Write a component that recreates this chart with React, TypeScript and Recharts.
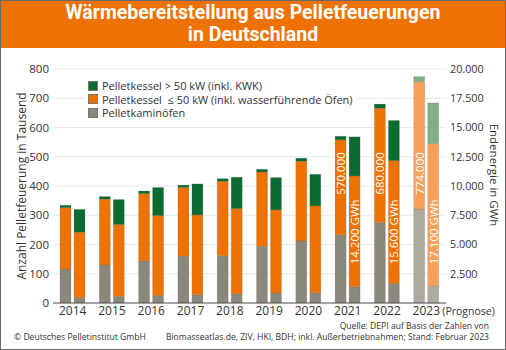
import React from 'react';
import { BarChart, Bar, XAxis, YAxis, CartesianGrid, Legend, LabelList, Cell } from 'recharts';

const years = ['2014', '2015', '2016', '2017', '2018', '2019', '2020', '2021', '2022', '2023'];
// Anzahl (Tausend)
const countKamin = [116, 130, 144, 160, 162, 194, 212, 233, 275, 321];
const countSmall = [210, 225, 230, 235, 254, 254, 273, 325, 391, 436];
const countLarge = [8, 9, 9, 8, 9, 9, 10, 12, 14, 17];
// Endenergie (GWh)
const energyKamin = [470, 560, 650, 710, 790, 850, 880, 1390, 1670, 1480];
const energySmall = [5580, 6150, 6820, 6820, 7280, 7110, 7420, 9470, 10500, 12140];
const energyLarge = [1950, 2130, 2400, 2650, 2680, 2760, 2700, 3340, 3430, 3480];
const countLabels = ['', '', '', '', '', '', '', '570.000', '680.000', '774.000'];
const energyLabels = ['', '', '', '', '', '', '', '14.200 GWh', '15.600 GWh', '17.100 GWh'];
const leftTicks = [0, 100, 200, 300, 400, 500, 600, 700, 800];
const rightTicks = [2500, 5000, 7500, 10000, 12500, 15000, 17500, 20000];
const forecastYear = '2023';
const titleLines = ['Wärmebereitstellung aus Pelletfeuerungen', 'in Deutschland'];
const legendItems = [
  { name: 'Pelletkessel > 50 kW (inkl. KWK)', color: '#0C6B31' },
  { name: 'Pelletkessel  ≤ 50 kW (inkl. wasserführende Öfen)', color: '#EE7203' },
  { name: 'Pelletkaminöfen', color: '#8B877A' },
];

const COLORS = {
  large: '#0C6B31', small: '#EE7203', kamin: '#8B877A',
  largeF: '#7FAF87', smallF: '#F7A05A', kaminF: '#AEAA9E',
};

const W = 506;
const H = 350;
const MARGIN = { top: 69, right: 0, bottom: 17, left: 0 };
const XAXIS_H = 30;
const PLOT_TOP = MARGIN.top;
const PLOT_H = H - MARGIN.top - MARGIN.bottom - XAXIS_H;
const LEFT_MAX = 800;
const RIGHT_MAX = 20000;
const COUNT_LABEL_AT = 443;
const ENERGY_LABEL_AT = 6080;
const FONT = '"Open Sans", "Noto Sans", sans-serif';
const TITLE_FONT = 'Roboto, "Open Sans", sans-serif';

const data = years.map((y, i) => ({
  year: y,
  cK: countKamin[i],
  cS: countSmall[i],
  cL: countLarge[i],
  eK: energyKamin[i],
  eS: energySmall[i],
  eL: energyLarge[i],
  cLabel: countLabels[i],
  eLabel: energyLabels[i],
}));

const fmtDe = (v: number) => String(v).replace(/\B(?=(\d{3})+(?!\d))/g, '.');

const makeInnerLabel = (axisVal: number, max: number) => (props: any) => {
  const { x, width, value } = props;
  if (!value) return null;
  const cx = Number(x) + Number(width) / 2;
  const cy = PLOT_TOP + PLOT_H * (1 - axisVal / max);
  return (
    <text
      x={cx}
      y={cy}
      transform={`rotate(-90 ${cx} ${cy})`}
      textAnchor="middle"
      dominantBaseline="central"
      fill="#ffffff"
      fontSize={11.5}
      fontFamily={FONT}
    >
      {value}
    </text>
  );
};

const YearTick = (props: any) => {
  const { x, y, payload } = props;
  return (
    <g>
      <text x={x} y={y} dy={10} textAnchor="middle" fontSize={12} fill="#333" fontFamily={FONT}>
        {payload.value}
      </text>
      {payload.value === forecastYear && (
        <text x={x + 16} y={y} dy={10} textAnchor="start" fontSize={10.5} fill="#333" fontFamily={FONT}>
          (Prognose)
        </text>
      )}
    </g>
  );
};

const renderLegend = () => (
  <div style={{ background: '#fff', padding: '2px 4px 2px 3px', fontFamily: FONT, fontSize: 11, color: '#333', lineHeight: '13.5px' }}>
    {legendItems.map((it) => (
      <div key={it.name} style={{ display: 'flex', alignItems: 'center', whiteSpace: 'pre' }}>
        <span style={{ display: 'inline-block', width: 8, height: 8, background: it.color, border: '0.5px solid #777', marginRight: 4 }} />
        <span>{it.name}</span>
      </div>
    ))}
  </div>
);

const fillFor = (base: string, forecast: string) =>
  data.map((d, i) => <Cell key={i} fill={d.year === forecastYear ? forecast : base} />);

const barStroke = 'rgba(60,60,60,0.25)';

export default function App() {
  return (
    <div style={{ position: 'fixed', left: 0, top: 0, width: W, height: H, background: '#fff', overflow: 'hidden', fontFamily: FONT }}>
      <div style={{ position: 'absolute', left: 0, top: 0, width: W, height: 48, background: '#EE7203' }} />
      {titleLines.map((t, i) => (
        <div
          key={t}
          style={{
            position: 'absolute', left: 0, top: 2 + i * 22, width: W, height: 22, color: '#fff',
            fontFamily: TITLE_FONT, fontWeight: 700, fontSize: 19.5, lineHeight: '22px', textAlign: 'center',
          }}
        >
          {t}
        </div>
      ))}
      <div style={{ position: 'absolute', left: 0, top: 0 }}>
        <BarChart width={W} height={H} data={data} margin={MARGIN} barSize={11} barGap={3}>
          <CartesianGrid horizontal vertical={false} stroke="#e9e9e9" yAxisId="left" />
          <XAxis
            dataKey="year"
            height={XAXIS_H}
            tick={<YearTick />}
            tickLine={false}
            tickSize={0}
            tickMargin={2}
            axisLine={{ stroke: '#555', strokeWidth: 1 }}
            interval={0}
          />
          <YAxis
            yAxisId="left"
            orientation="left"
            width={53}
            domain={[0, LEFT_MAX]}
            ticks={leftTicks}
            tickLine={false}
            tickSize={0}
            tickMargin={4}
            axisLine={false}
            tick={{ fontSize: 11.5, fill: '#333', fontFamily: FONT }}
            interval={0}
          />
          <YAxis
            yAxisId="right"
            orientation="right"
            width={60}
            domain={[0, RIGHT_MAX]}
            ticks={rightTicks}
            tickFormatter={fmtDe}
            tickLine={false}
            tickSize={0}
            tickMargin={4}
            axisLine={false}
            tick={{ fontSize: 10.8, fill: '#333', fontFamily: FONT, textAnchor: 'start' }}
            interval={0}
          />
          <Legend
            layout="vertical"
            align="center"
            verticalAlign="middle"
            content={renderLegend}
            wrapperStyle={{ left: 85, top: 77, width: 'auto', height: 'auto' }}
          />
          <Bar dataKey="cK" stackId="count" yAxisId="left" isAnimationActive={false} stroke={barStroke} strokeWidth={0.5}>
            {fillFor(COLORS.kamin, COLORS.kaminF)}
          </Bar>
          <Bar dataKey="cS" stackId="count" yAxisId="left" isAnimationActive={false} stroke={barStroke} strokeWidth={0.5}>
            {fillFor(COLORS.small, COLORS.smallF)}
            <LabelList dataKey="cLabel" content={makeInnerLabel(COUNT_LABEL_AT, LEFT_MAX)} />
          </Bar>
          <Bar dataKey="cL" stackId="count" yAxisId="left" isAnimationActive={false} stroke={barStroke} strokeWidth={0.5}>
            {fillFor(COLORS.large, COLORS.largeF)}
          </Bar>
          <Bar dataKey="eK" stackId="energy" yAxisId="right" isAnimationActive={false} stroke={barStroke} strokeWidth={0.5}>
            {fillFor(COLORS.kamin, COLORS.kaminF)}
          </Bar>
          <Bar dataKey="eS" stackId="energy" yAxisId="right" isAnimationActive={false} stroke={barStroke} strokeWidth={0.5}>
            {fillFor(COLORS.small, COLORS.smallF)}
            <LabelList dataKey="eLabel" content={makeInnerLabel(ENERGY_LABEL_AT, RIGHT_MAX)} />
          </Bar>
          <Bar dataKey="eL" stackId="energy" yAxisId="right" isAnimationActive={false} stroke={barStroke} strokeWidth={0.5}>
            {fillFor(COLORS.large, COLORS.largeF)}
          </Bar>
        </BarChart>
      </div>
      <svg width={W} height={H} style={{ position: 'absolute', left: 0, top: 0, pointerEvents: 'none' }}>
        <text x={21} y={186} transform="rotate(-90 21 186)" textAnchor="middle" dominantBaseline="central" fontSize={12} fill="#333" fontFamily={FONT}>
          Anzahl Pelletfeuerung in Tausend
        </text>
        <text x={494} y={175} transform="rotate(90 494 175)" textAnchor="middle" dominantBaseline="central" fontSize={11.5} fill="#333" fontFamily={FONT}>
          Endenergie in GWh
        </text>
        <text x={14} y={340} fontSize={8.6} fill="#333" fontFamily={FONT}>
          © Deutsches Pelletinstitut GmbH
        </text>
        <text x={489} y={329} textAnchor="end" fontSize={8.6} fill="#333" fontFamily={FONT}>
          Quelle: DEPI auf Basis der Zahlen von
        </text>
        <text x={489} y={340} textAnchor="end" fontSize={8.6} fill="#333" fontFamily={FONT}>
          Biomasseatlas.de, ZIV, HKI, BDH; inkl. Außerbetriebnahmen; Stand: Februar 2023
        </text>
      </svg>
      <div style={{ position: 'absolute', left: 0, top: 0, width: W, height: H, boxSizing: 'border-box', border: '1px solid #6a6a6a', pointerEvents: 'none' }} />
    </div>
  );
}
